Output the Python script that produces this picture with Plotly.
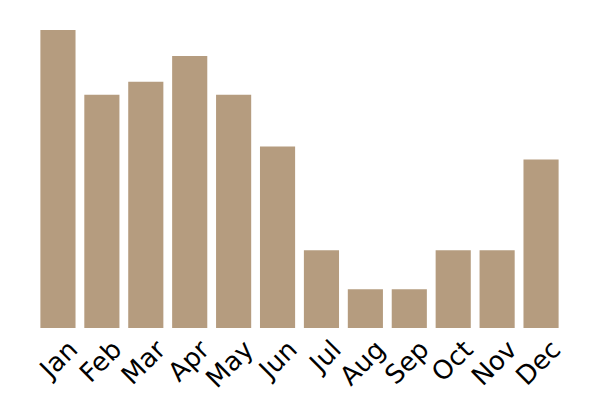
import plotly.graph_objects as go

months = ["Jan", "Feb", "Mar", "Apr", "May", "Jun", "Jul", "Aug", "Sep", "Oct", "Nov", "Dec"]
values = [23, 18, 19, 21, 18, 14, 6, 3, 3, 6, 6, 13]

fig = go.Figure()
fig.add_trace(
    go.Bar(
        x=months,
        y=values,
        marker=dict(color="#b59c7f", line=dict(width=0)),
    )
)

# the page is shown with an 8px offset, so margins are shifted to compensate
fig.update_layout(
    width=600,
    height=400,
    margin=dict(l=28, r=45, t=22, b=80),
    paper_bgcolor="white",
    plot_bgcolor="white",
    bargap=0.2,
    showlegend=False,
    font=dict(family="DejaVu Sans, Verdana, sans-serif", size=22, color="black"),
)
fig.update_xaxes(
    tickangle=-45,
    tickfont=dict(size=26),
    showline=False,
    showgrid=False,
    ticks="",
    ticklabelshift=12,
    automargin=False,
)
fig.update_yaxes(visible=False, range=[0, 23])

fig.write_html("out.html")
